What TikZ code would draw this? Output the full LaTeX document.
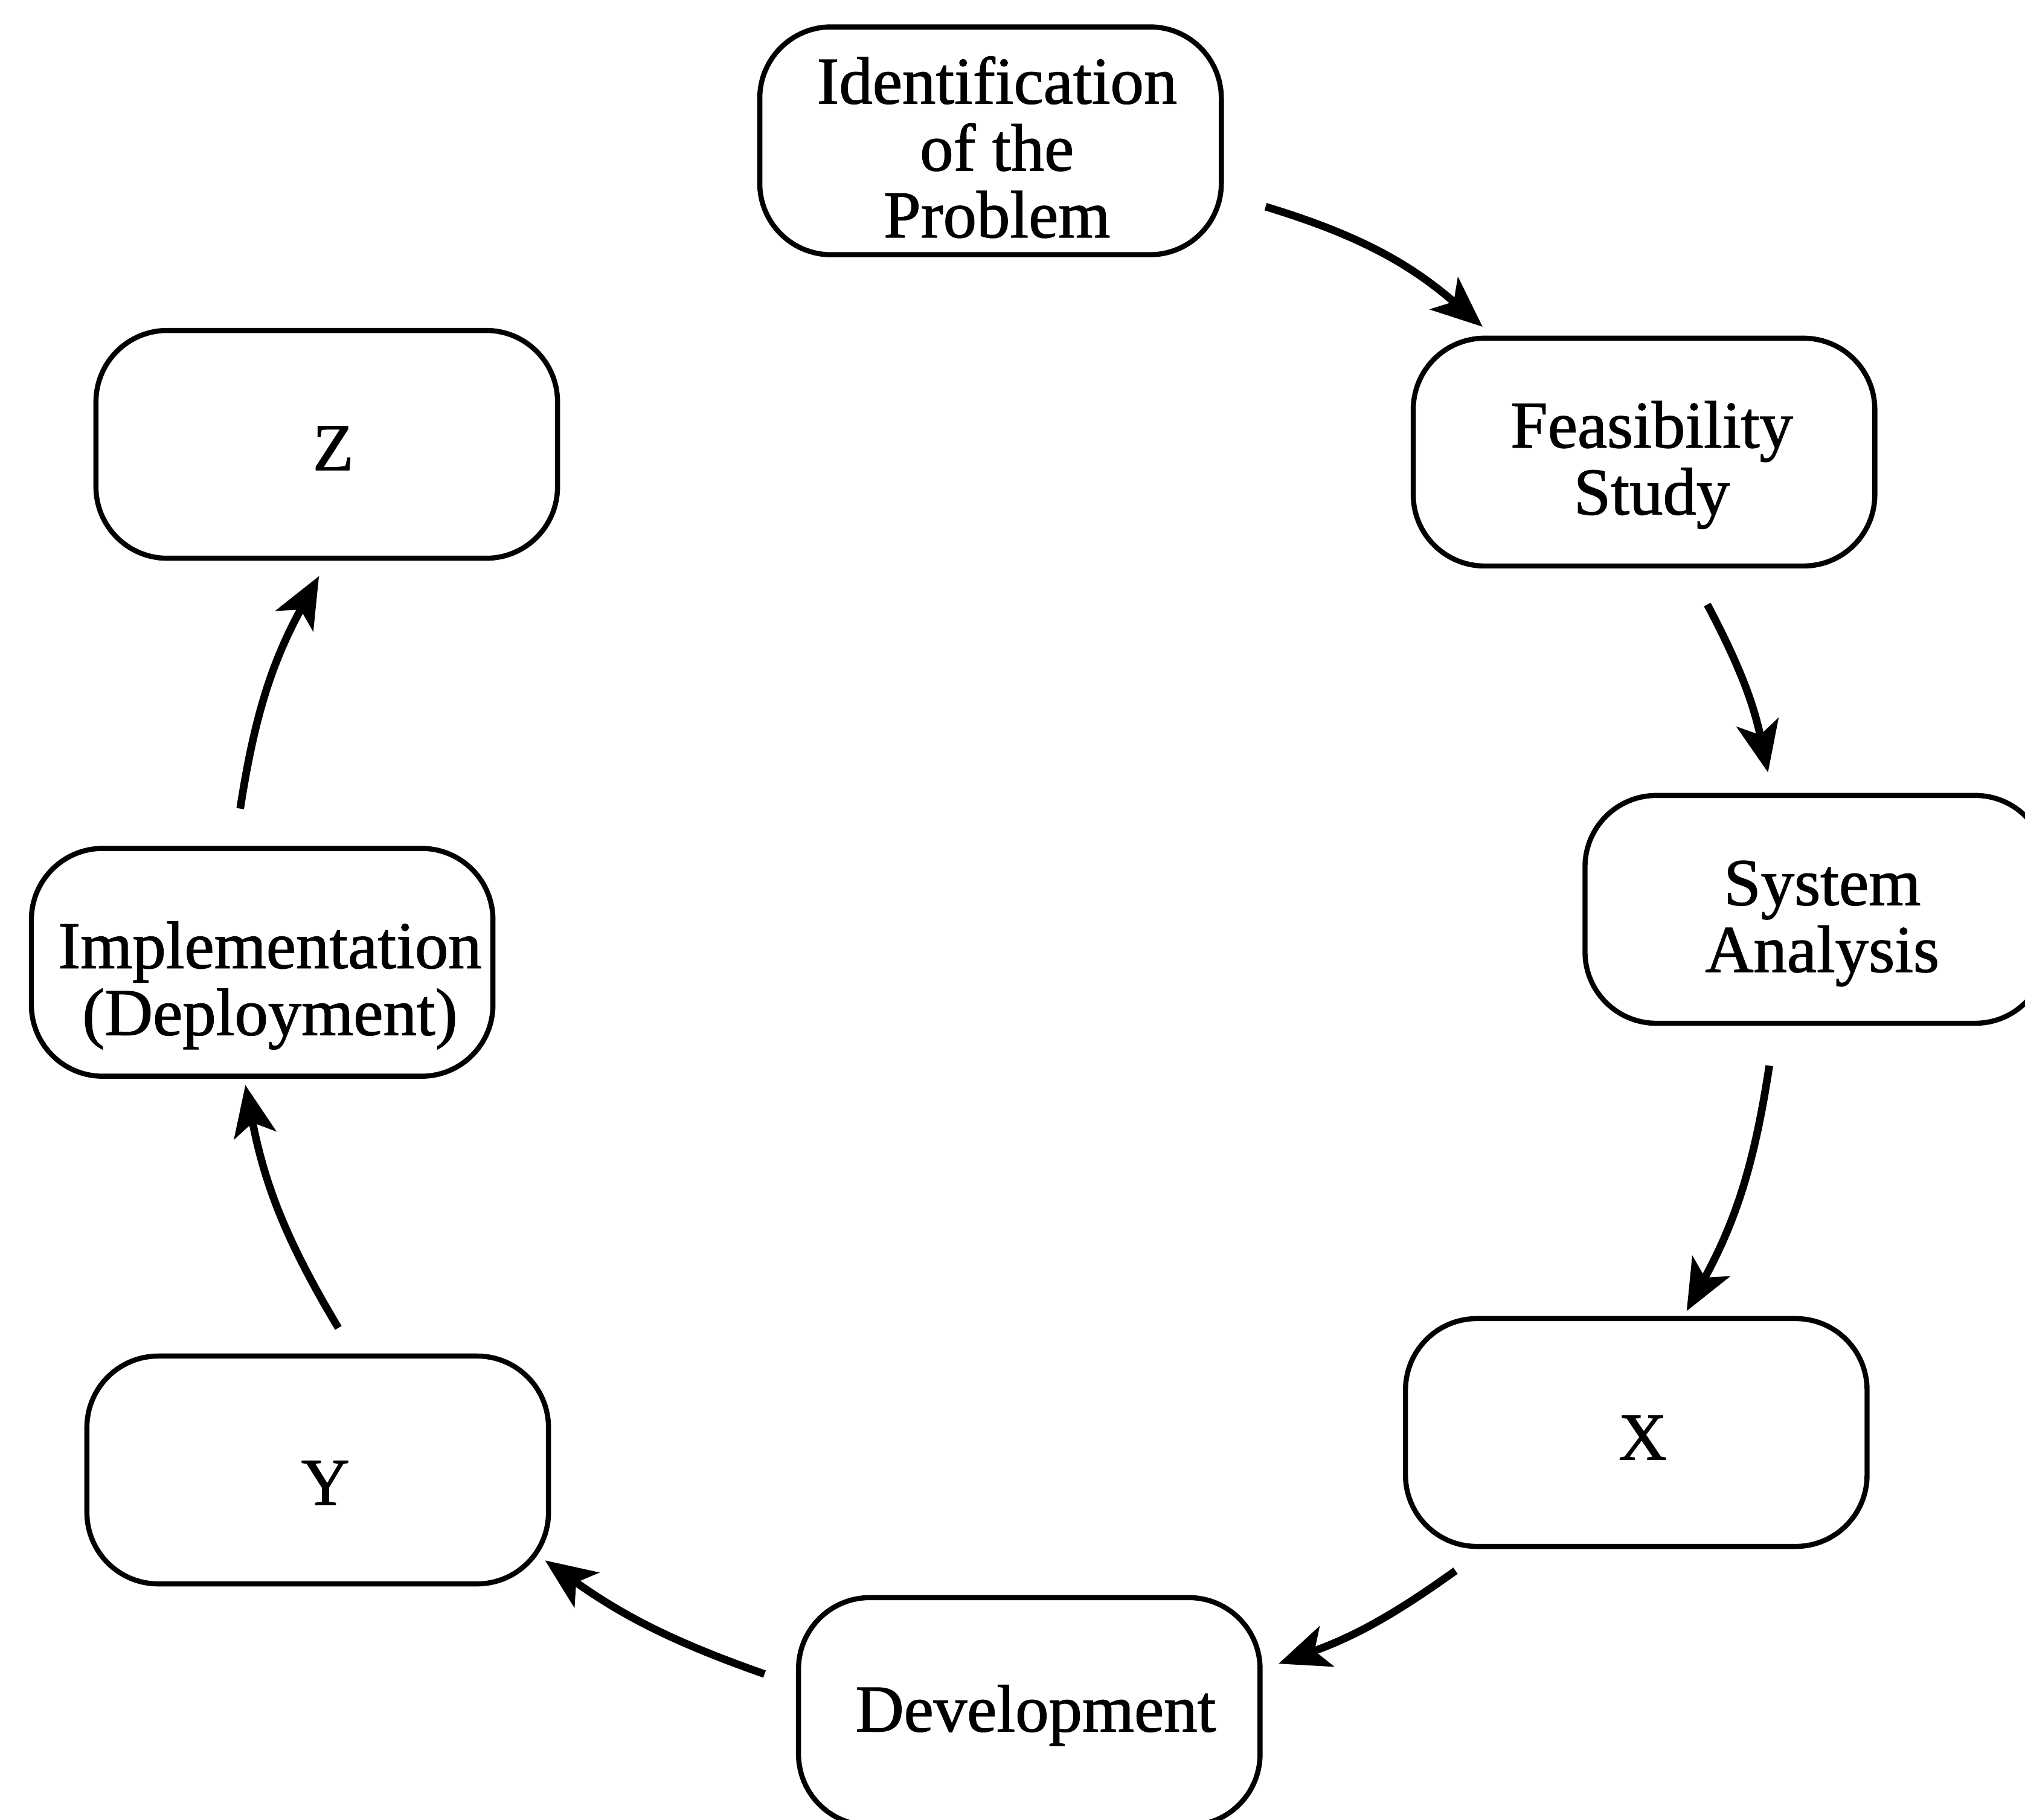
\documentclass[tikz,border=0pt]{standalone}
\usepackage{fontspec}
\setmainfont{Liberation Serif}
\newfontfamily\scanfont{Liberation Serif}[FakeBold=1.2]
\usetikzlibrary{arrows.meta,calc}
\begin{document}
\begin{tikzpicture}[x=0.021384cm,y=-0.021384cm,
  stage/.style={draw,line width=2.4pt,rounded corners=1.18cm,inner sep=0pt,
    minimum width=7.64cm,minimum height=3.77cm},
  label/.style={inner sep=0pt,align=center,
    font=\scanfont\fontsize{31.5pt}{31.5pt}\selectfont},
  flow/.style={line width=3.6pt,-{Stealth[length=24pt,width=20pt,inset=6pt]}}]
\useasboundingbox (0,0) rectangle (1568,1409);
\node[stage] (ident) at (767,109) {};
\node[stage] (feas) at (1273,350) {};
\node[stage] (sysa) at (1406,704) {};
\node[stage] (x) at (1267,1109) {};
\node[stage] (dev) at (797,1325) {};
\node[stage] (y) at (246,1138) {};
\node[stage] (impl) at (203,745) {};
\node[stage] (z) at (253,344) {};
\node[label] (identt) at ($(ident)+(5,5)$) {Identification\\of the\\Problem};
\node[label] (feast) at ($(feas)+(6,10)$) {Feasibility\\Study};
\node[label] (sysat) at ($(sysa)+(5,11)$) {System\\Analysis};
\node[label] (xt) at ($(x)+(5,4)$) {X};
\node[label] (devt) at ($(dev)+(5,3)$) {Development};
\node[label] (yt) at ($(y)+(6,10)$) {Y};
\node[label] (implt) at ($(impl)+(6,18)$) {Implementation\\(Deployment)};
\node[label] (zt) at ($(z)+(5,3)$) {Z};
\coordinate (a1s) at (980,160);  \coordinate (a1e) at (1148,253);
\coordinate (a2s) at (1322,468); \coordinate (a2e) at (1369,598);
\coordinate (a3s) at (1370,825); \coordinate (a3e) at (1306,1015);
\coordinate (a4s) at (1127,1216);\coordinate (a4e) at (990,1288);
\coordinate (a5s) at (592,1296); \coordinate (a5e) at (422,1208);
\coordinate (a6s) at (262,1028); \coordinate (a6e) at (190,840);
\coordinate (a7s) at (186,626);  \coordinate (a7e) at (247,446);
\draw[flow] (a1s) to[bend left=12] (a1e);
\draw[flow] (a2s) to[bend left=8] (a2e);
\draw[flow] (a3s) to[bend left=10] (a3e);
\draw[flow] (a4s) to[bend left=8] (a4e);
\draw[flow] (a5s) to[bend left=8] (a5e);
\draw[flow] (a6s) to[bend left=10] (a6e);
\draw[flow] (a7s) to[bend left=10] (a7e);
\end{tikzpicture}
\end{document}
